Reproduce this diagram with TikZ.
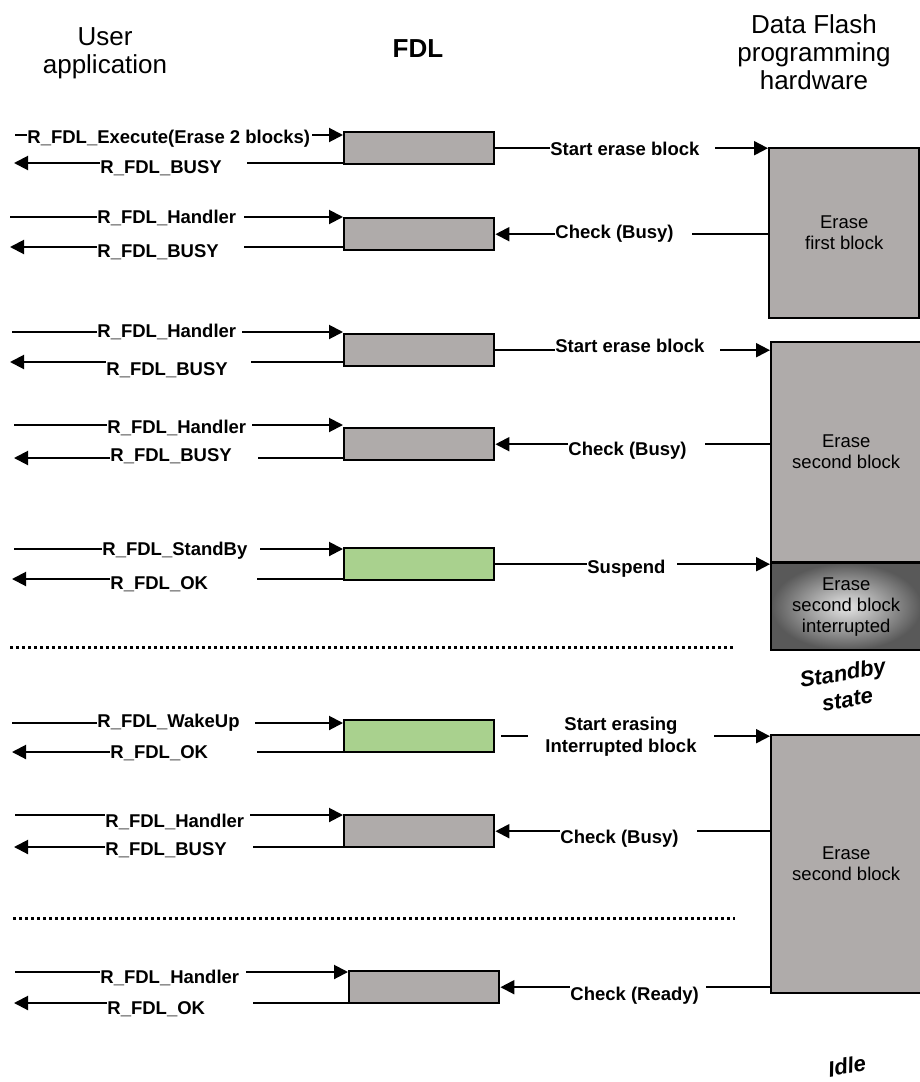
\documentclass[tikz,border=0pt]{standalone}
\usepackage{fontspec}
\setmainfont{Liberation Sans}
\usetikzlibrary{arrows.meta}

\definecolor{boxgray}{RGB}{175,171,170}
\definecolor{okgreen}{RGB}{169,209,142}
\newcommand{\gapafter}[1]{\hspace{#1}\null}

\tikzset{
  flow/.style={line width=1pt, -{Triangle[length=7pt,width=7pt]}},
  lbl/.style={fill=white, inner xsep=0pt, inner ysep=1pt, anchor=base west,
    font=\fontsize{9.25}{11}\selectfont\bfseries},
  fdlbox/.style={draw, line width=1.2pt, fill=boxgray, minimum width=75pt,
    minimum height=16pt, anchor=north west, inner sep=0pt},
  hwbox/.style={draw, line width=1.2pt, fill=boxgray, minimum width=75pt,
    anchor=north west, align=center, font=\fontsize{9.25}{10.5}\selectfont},
  sep/.style={line width=1.5pt, dash pattern=on 1.5pt off 1.5pt},
  state/.style={font=\fontsize{11}{13.5}\selectfont\bfseries\itshape, rotate=10, align=center},
  head/.style={font=\fontsize{13}{14}\selectfont, align=center}
}

\begin{document}
\begin{tikzpicture}[x=0.5pt, y=-0.5pt]
    \useasboundingbox (0,0) rectangle (920,1082);

    % column heads
    \node[head] (huser) at (105,53) {User\\application};
    \node[head, font=\fontsize{13}{14}\selectfont\bfseries] (hfdl) at (418,49) {FDL};
    \node[head] (hhw) at (814,52) {Data Flash\\programming\\hardware};

    % FDL calls
    \node[fdlbox] (f1) at (343,131) {};
    \node[fdlbox] (f2) at (343,217) {};
    \node[fdlbox] (f3) at (343,333) {};
    \node[fdlbox] (f4) at (343,427) {};
    \node[fdlbox, fill=okgreen] (f5) at (343,547) {};
    \node[fdlbox, fill=okgreen] (f6) at (343,719) {};
    \node[fdlbox] (f7) at (343,814) {};
    \node[fdlbox] (f8) at (348,970) {};

    % hardware states
    \node[hwbox, minimum height=85pt] (hw1) at (768,147) {Erase\\first block};
    \node[hwbox, minimum height=110pt] (hw2) at (770,341) {Erase\\second block};
    \node[hwbox, minimum height=43.5pt, shade, inner color=gray!20, outer color=black!65]
      (hw3) at (770,562) {Erase\\second block\\interrupted};
    \node[hwbox, minimum height=129pt] (hw4) at (770,734) {Erase\\second block};
    \node[state] (standby) at (845,686) {Standby\\state};
    \node[state] (idle) at (847,1066) {Idle};

    % user side ends
    \coordinate (u1c) at (15,135);  \coordinate (u1r) at (14,163);
    \coordinate (u2c) at (10,217);  \coordinate (u2r) at (10,247);
    \coordinate (u3c) at (12,332);  \coordinate (u3r) at (10,362);
    \coordinate (u4c) at (14,425);  \coordinate (u4r) at (14,458);
    \coordinate (u5c) at (14,549);  \coordinate (u5r) at (12,579);
    \coordinate (u6c) at (12,723);  \coordinate (u6r) at (12,752);
    \coordinate (u7c) at (15,815);  \coordinate (u7r) at (14,847);
    \coordinate (u8c) at (15,972);  \coordinate (u8r) at (14,1003);

    % user <-> FDL
    \draw[flow] (u1c) -- (u1c -| f1.west);  \draw[flow] (u1r -| f1.west) -- (u1r);
    \draw[flow] (u2c) -- (u2c -| f2.west);  \draw[flow] (u2r -| f2.west) -- (u2r);
    \draw[flow] (u3c) -- (u3c -| f3.west);  \draw[flow] (u3r -| f3.west) -- (u3r);
    \draw[flow] (u4c) -- (u4c -| f4.west);  \draw[flow] (u4r -| f4.west) -- (u4r);
    \draw[flow] (u5c) -- (u5c -| f5.west);  \draw[flow] (u5r -| f5.west) -- (u5r);
    \draw[flow] (u6c) -- (u6c -| f6.west);  \draw[flow] (u6r -| f6.west) -- (u6r);
    \draw[flow] (u7c) -- (u7c -| f7.west);  \draw[flow] (u7r -| f7.west) -- (u7r);
    \draw[flow] (u8c) -- (u8c -| f8.west);  \draw[flow] (u8r -| f8.west) -- (u8r);

    \node[lbl] (l1c) at (27,143) {R\_FDL\_Execute(Erase 2 blocks)\gapafter{1pt}};
    \node[lbl] (l1r) at (100,173) {R\_FDL\_BUSY\gapafter{12.5pt}};
    \node[lbl] (l2c) at (97,223) {R\_FDL\_Handler\gapafter{4pt}};
    \node[lbl] (l2r) at (97,257) {R\_FDL\_BUSY\gapafter{12.5pt}};
    \node[lbl] (l3c) at (97,337) {R\_FDL\_Handler\gapafter{3pt}};
    \node[lbl] (l3r) at (106,375) {R\_FDL\_BUSY\gapafter{11.5pt}};
    \node[lbl] (l4c) at (107,433) {R\_FDL\_Handler\gapafter{3pt}};
    \node[lbl] (l4r) at (110,461) {R\_FDL\_BUSY\gapafter{13pt}};
    \node[lbl] (l5c) at (102,555) {R\_FDL\_StandBy\gapafter{6.5pt}};
    \node[lbl] (l5r) at (110,589) {R\_FDL\_OK\gapafter{24.5pt}};
    \node[lbl] (l6c) at (97,727) {R\_FDL\_WakeUp\gapafter{7.5pt}};
    \node[lbl] (l6r) at (110,758) {R\_FDL\_OK\gapafter{24.5pt}};
    \node[lbl] (l7c) at (105,827) {R\_FDL\_Handler\gapafter{3pt}};
    \node[lbl] (l7r) at (105,855) {R\_FDL\_BUSY\gapafter{13pt}};
    \node[lbl] (l8c) at (100,983) {R\_FDL\_Handler\gapafter{3.5pt}};
    \node[lbl] (l8r) at (107,1014) {R\_FDL\_OK\gapafter{24pt}};

    % FDL <-> hardware
    \draw[flow] (f1.east) -- (f1.east -| hw1.west);
    \draw[flow] (f2.east -| hw1.west) -- (f2.east);
    \draw[flow] (f3.east) -- (f3.east -| hw2.west);
    \draw[flow] (f4.east -| hw2.west) -- (f4.east);
    \draw[flow] (f5.east) -- (f5.east -| hw3.west);
    \draw[flow] ([xshift=3pt]f6.east) -- (f6.east -| hw4.west);
    \draw[flow] (f7.east -| hw4.west) -- (f7.east);
    \draw[flow] (f8.east -| hw4.west) -- (f8.east);

    \node[lbl] (r1) at (550,155) {Start erase block\gapafter{7.5pt}};
    \node[lbl] (r2) at (555,238) {Check (Busy)\gapafter{9pt}};
    \node[lbl] (r3) at (555,352) {Start erase block\gapafter{7.5pt}};
    \node[lbl] (r4) at (568,455) {Check (Busy)\gapafter{9pt}};
    \node[lbl] (r5) at (587,573) {Suspend\gapafter{5.5pt}};
    \node[lbl, anchor=center, align=center, minimum width=93pt, inner ysep=0pt,
      font=\fontsize{9.25}{11}\selectfont\bfseries] (r6) at (621,737) {Start erasing\\Interrupted block};
    \node[lbl] (r7) at (560,843) {Check (Busy)\gapafter{9pt}};
    \node[lbl] (r8) at (570,1000) {Check (Ready)\gapafter{3.5pt}};

    % standby / idle borders
    \draw[sep] (10,647) -- (733,647);
    \draw[sep] (13,918) -- (735,918);
\end{tikzpicture}
\end{document}
